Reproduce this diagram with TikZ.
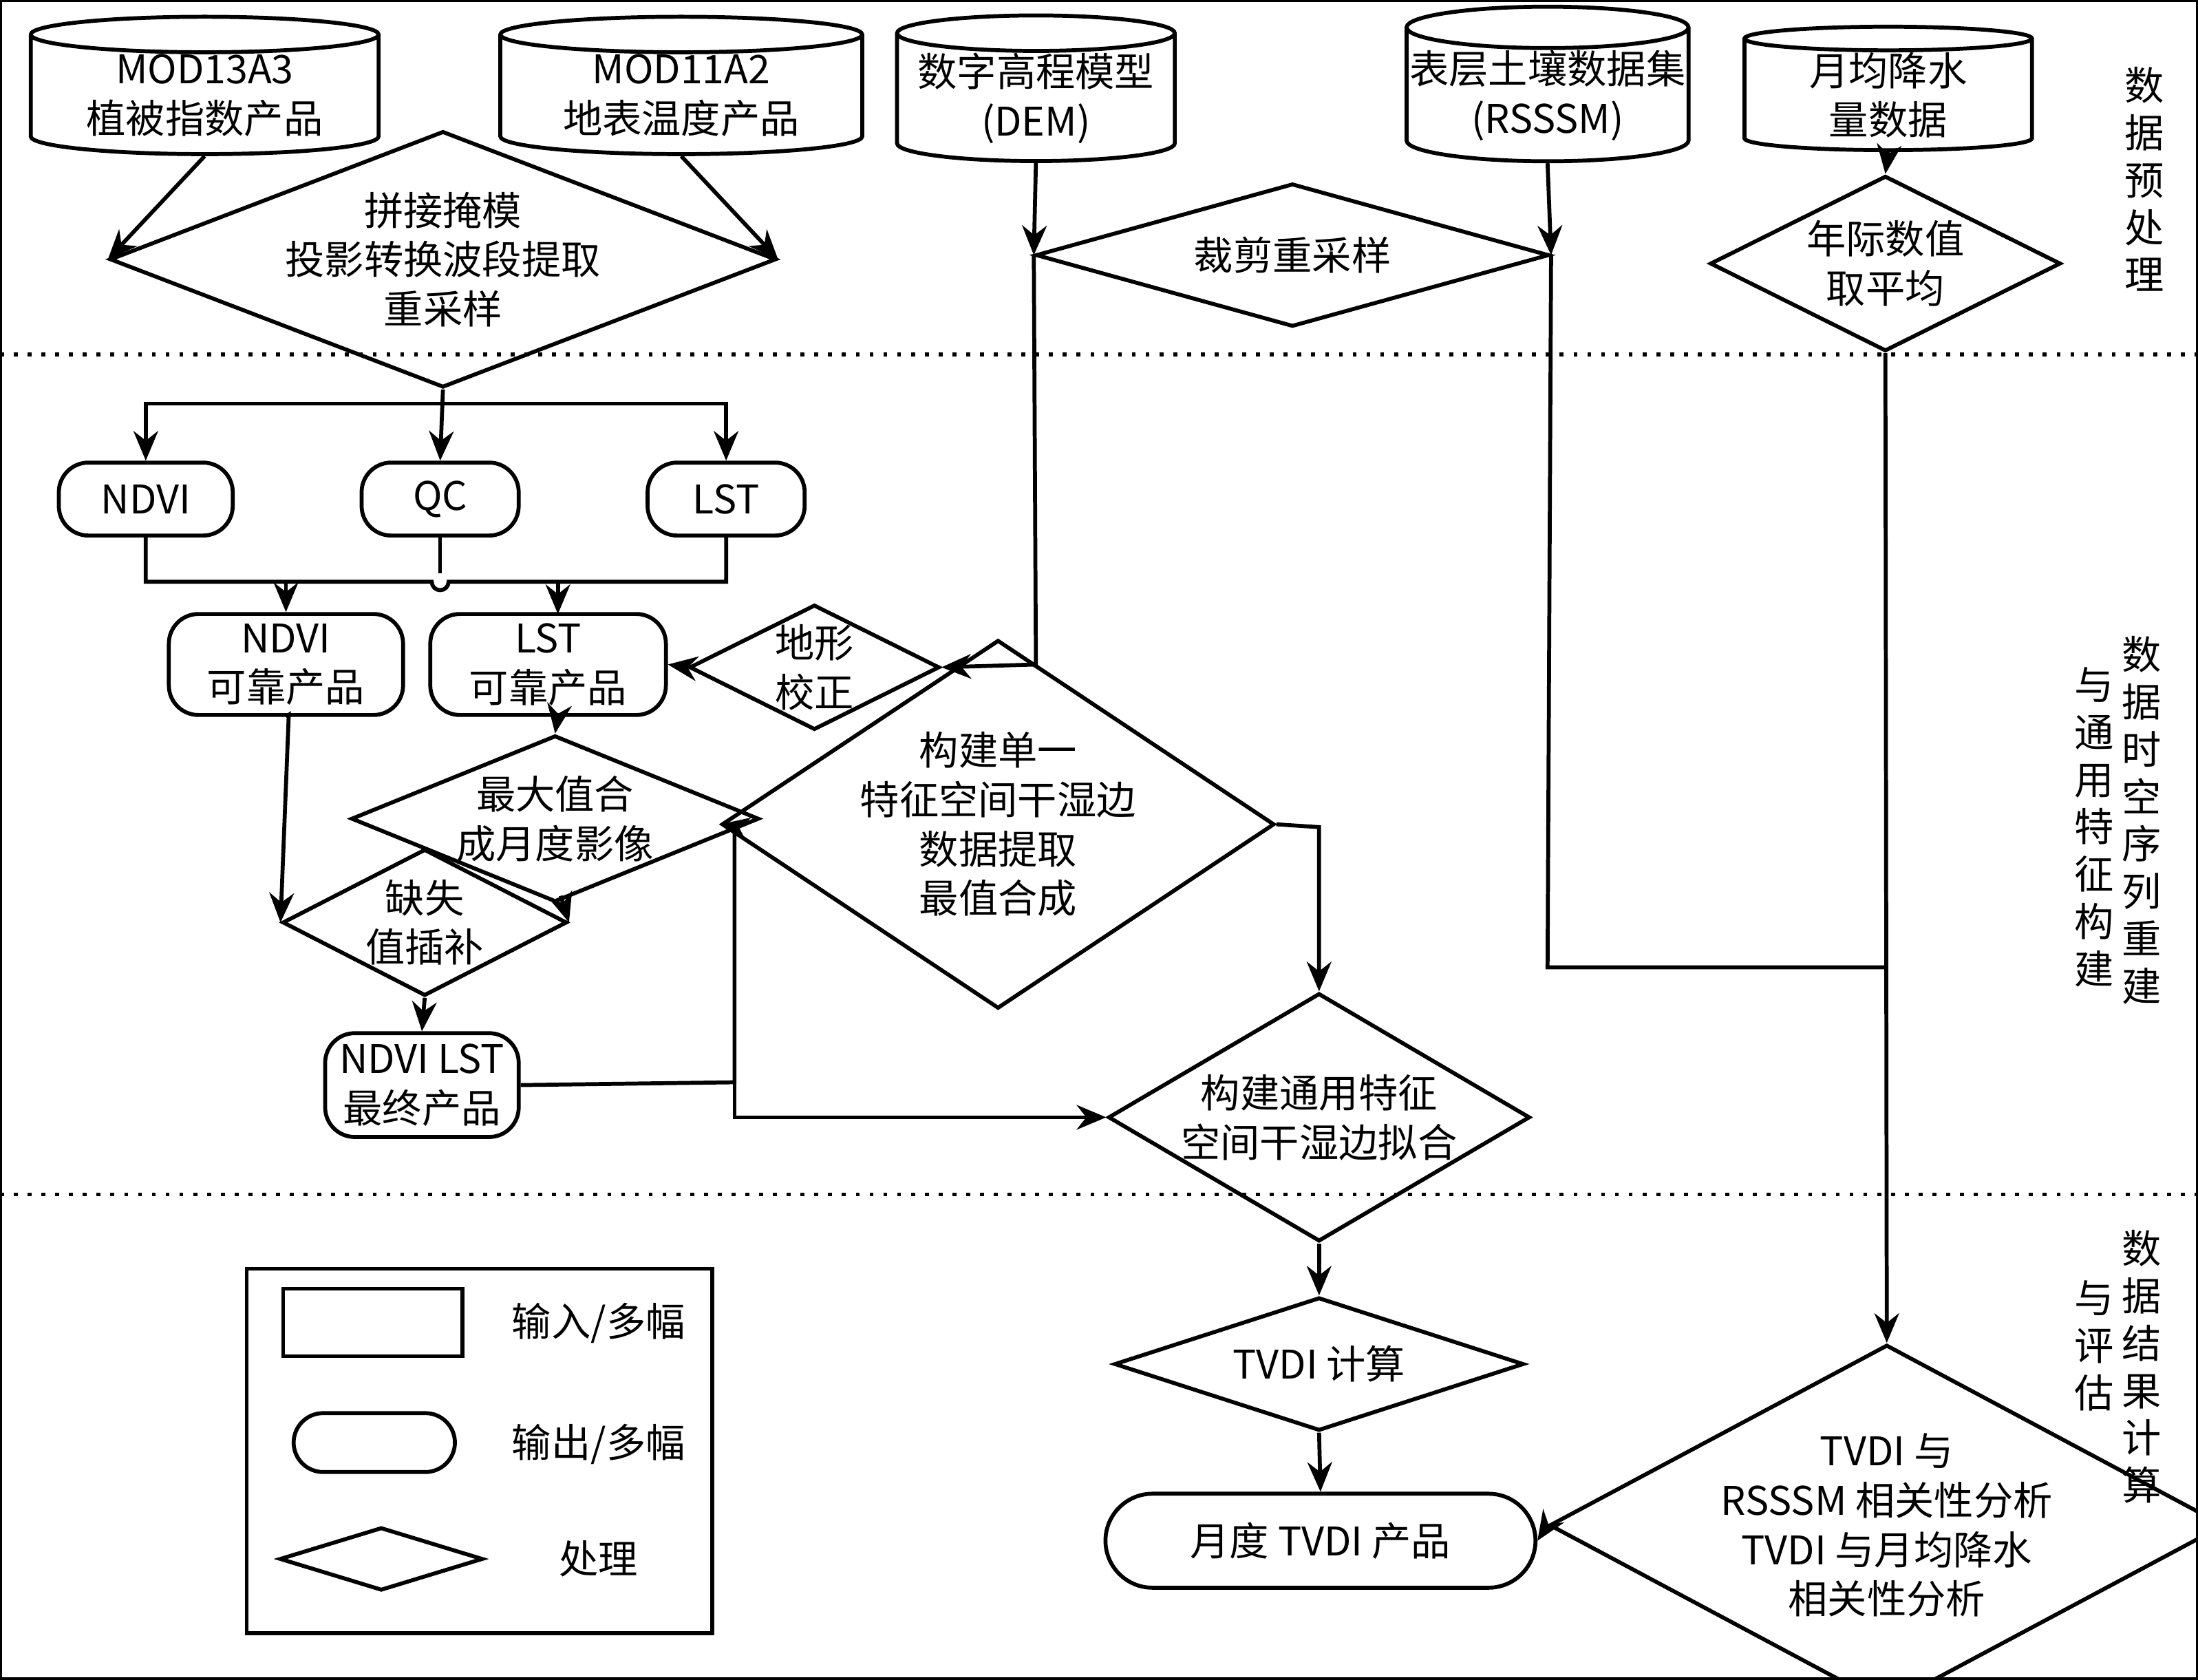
\documentclass[tikz,border=0pt]{standalone}
\usepackage{fontspec}
\setmainfont{Liberation Serif}
\newfontfamily\cjk{Noto Sans CJK SC}
\usetikzlibrary{shapes.geometric,shapes.misc,arrows.meta}
\begin{document}
\begin{tikzpicture}[x=0.01cm,y=-0.01cm,font=\fontsize{8}{10}\selectfont\cjk,
% common options for the drums:
drum/.style = {cylinder, shape border rotate=90, draw, thick, aspect=0.15,
            align=center, inner sep=0},
% common options for the boxes:
rbox/.style = {draw, thick, rounded corners=6pt, align=center, inner sep=0},
% common options for the diamonds:
dia/.style = {diamond, draw, thick, align=center, inner sep=0, shape aspect=#1},
arr/.style = {thick, -{Stealth[length=6pt,width=5pt]}},
ln/.style = {thick}]
\useasboundingbox (0,0) rectangle (1568,1198);
\draw[thick] (0,0) rectangle (1568,1198);
\draw[thick,dotted] (0,253) -- (1568,253);
\draw[thick,dotted] (0,852) -- (1568,852);
% input drums
\node[drum,minimum width=2.48cm,minimum height=0.88cm] (C1) at (146,68) {MOD13A3\\植被指数产品};
\node[drum,minimum width=2.58cm,minimum height=0.88cm] (C2) at (486,68) {MOD11A2\\地表温度产品};
\node[drum,minimum width=1.98cm,minimum height=0.92cm] (C3) at (739,70) {数字高程模型\\(DEM)};
\node[drum,minimum width=2.01cm,minimum height=0.88cm] (C4) at (1104,68) {表层土壤数据集\\(RSSSM)};
\node[drum,minimum width=2.05cm,minimum height=0.88cm] (C5) at (1347,68) {月均降水\\量数据};
% preprocessing
\node[dia=2.6,minimum width=3.40cm,minimum height=1.30cm] (D1) at (316,185) {拼接掩模\\投影转换波段提取\\重采样};
\node[dia=3.6,minimum width=3.66cm,minimum height=1.02cm] (D2) at (922,182) {裁剪重采样};
\node[dia=2,minimum width=2.50cm,minimum height=1.25cm] (D3) at (1345,188) {年际数值\\取平均};
% reconstruction
\node[rbox,minimum width=1.24cm,minimum height=0.52cm] (B1) at (104,356) {NDVI};
\node[rbox,minimum width=1.12cm,minimum height=0.52cm] (B2) at (314,356) {QC};
\node[rbox,minimum width=1.12cm,minimum height=0.52cm] (B3) at (518,356) {LST};
\node[rbox,minimum width=1.67cm,minimum height=0.72cm] (R1) at (204,474) {NDVI\\可靠产品};
\node[rbox,minimum width=1.68cm,minimum height=0.72cm] (R2) at (391,474) {LST\\可靠产品};
\node[dia=2,minimum width=1.62cm,minimum height=0.80cm] (T1) at (581,476) {地形\\校正};
\node[dia=2.45,minimum width=2.76cm,minimum height=1.13cm] (M1) at (396,584) {最大值合\\成月度影像};
\node[dia=1.5,minimum width=2.95cm,minimum height=1.98cm] (S1) at (712,588) {构建单一\\特征空间干湿边\\数据提取\\最值合成};
\node[dia=1.94,minimum width=1.94cm,minimum height=1.00cm] (G1) at (303,658) {缺失\\值插补};
\node[rbox,minimum width=1.38cm,minimum height=0.74cm] (F1) at (301,774) {NDVI LST\\最终产品};
\node[dia=1.7,minimum width=2.93cm,minimum height=1.72cm] (U1) at (941,797) {构建通用特征\\空间干湿边拟合};
% results
\node[dia=3.07,minimum width=2.92cm,minimum height=0.95cm] (V1) at (941,973) {TVDI 计算};
\node[rounded rectangle,draw,thick,minimum width=3.30cm,minimum height=0.67cm] (P1) at (942,1099) {月度 TVDI 产品};
\node[dia=1.87,minimum width=3.96cm,minimum height=2.12cm] (A1) at (1346,1088) {TVDI 与\\RSSSM 相关性分析\\TVDI 与月均降水\\相关性分析};
% legend
\draw[thick] (176,905) rectangle (508,1165);
\node[drum,minimum width=1.28cm,minimum height=0.48cm] (L1) at (266,944) {\strut};
\node[rbox,minimum width=1.15cm,minimum height=0.42cm] (L2) at (267,1029) {};
\node[dia=3.2,minimum width=1.45cm,minimum height=0.45cm] (L3) at (272,1112) {};
\node (L1t) at (427,944) {输入/多幅};
\node (L2t) at (427,1030) {输出/多幅};
\node (L3t) at (427,1112) {处理};
% side titles
\node[align=center,font=\fontsize{8}{9.6}\selectfont\cjk] (H1) at (1530,128) {数\\据\\预\\处\\理};
\node[align=center,font=\fontsize{8}{9.6}\selectfont\cjk] (H2a) at (1528,585) {数\\据\\时\\空\\序\\列\\重\\建};
\node[align=center,font=\fontsize{8}{9.6}\selectfont\cjk] (H2b) at (1494,590) {与\\通\\用\\特\\征\\构\\建};
\node[align=center,font=\fontsize{8}{9.6}\selectfont\cjk] (H3a) at (1528,975) {数\\据\\结\\果\\计\\算};
\node[align=center,font=\fontsize{8}{9.6}\selectfont\cjk] (H3b) at (1494,960) {与\\评\\估};
% connectors
\draw[arr] (C1.south) -- (D1.west);
\draw[arr] (C2.south) -- (D1.east);
\draw[arr] (C3.south) -- (D2.west);
\draw[arr] (C4.south) -- (D2.east);
\draw[arr] (C5.south) -- (D3.north);
\draw[arr] (D1.south) -- (B2.north);
\draw[arr] (316,288) -| (B1.north);
\draw[arr] (316,288) -| (B3.north);
\draw[ln] (B1.south) -- (104,415) -- (308,415) arc (180:0:6) -- (518,415) -- (B3.south);
\draw[ln] (B2.south) -- (314,409);
\draw[arr] (204,415) -- (R1.north);
\draw[arr] (398,415) -- (398,438);
\draw[arr] (D2.west) -- (739,474) -- (T1.east);
\draw[arr] (T1.west) -- (R2.east);
\draw[arr] (398,510) -- (M1.north);
\draw[arr] (R1.south) -- (206,510) -- (G1.west);
\draw[arr] (400,639) -- (G1.east);
\draw[arr] (G1.south) -- (F1.north);
\draw[arr] (F1.east) -- (524,772) -- (524,590) -- (S1.west);
\draw[arr] (524,772) -- (524,797) -- (U1.west);
\draw[arr] (S1.east) -- (941,590) -- (U1.north);
\draw[ln] (D2.east) -- (1104,690) -- (1346,690);
\draw[arr] (D3.south) -- (A1.north);
\draw[arr] (U1.south) -- (V1.north);
\draw[arr] (V1.south) -- (P1.north);
\draw[arr] (A1.west) -- (P1.east);
\end{tikzpicture}
\end{document}
